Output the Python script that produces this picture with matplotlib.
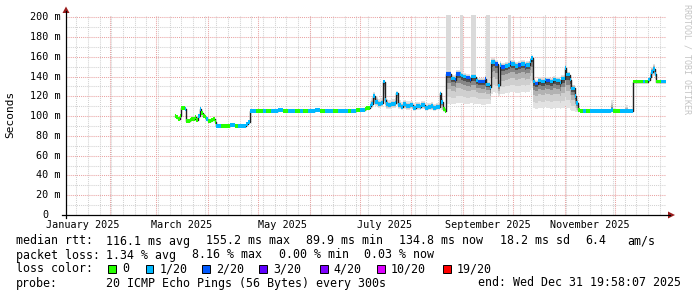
import matplotlib
matplotlib.use("Agg")
import matplotlib.pyplot as plt
import matplotlib.dates as mdates
from matplotlib.lines import Line2D
from matplotlib.patches import Polygon, Rectangle
import numpy as np
import pandas as pd

# ---------------- data ----------------
graph_start = "2025-01-05 19:58:07"
graph_end = "2025-12-31 19:58:07"
y_top_ms = 202.3

sample_dates = [
    "2025-03-12", "2025-03-13", "2025-03-14", "2025-03-15", "2025-03-16", "2025-03-18",
    "2025-03-19", "2025-03-21", "2025-03-22", "2025-03-24", "2025-03-25", "2025-03-26",
    "2025-03-27", "2025-03-28", "2025-03-29", "2025-03-30", "2025-03-31", "2025-04-01",
    "2025-04-03", "2025-04-04", "2025-04-05", "2025-04-06", "2025-04-09", "2025-04-14",
    "2025-04-17", "2025-04-19", "2025-04-24", "2025-04-25",
    "2025-04-26", "2025-04-30", "2025-05-04", "2025-05-06", "2025-05-09", "2025-05-13",
    "2025-05-16", "2025-05-19", "2025-05-23", "2025-05-26", "2025-05-28", "2025-05-31",
    "2025-06-04", "2025-06-07", "2025-06-10", "2025-06-15", "2025-06-18", "2025-06-24",
    "2025-06-26", "2025-06-29",
    "2025-07-01", "2025-07-04", "2025-07-05", "2025-07-07", "2025-07-08", "2025-07-09",
    "2025-07-10", "2025-07-12", "2025-07-14", "2025-07-15", "2025-07-16", "2025-07-17",
    "2025-07-18", "2025-07-20", "2025-07-22", "2025-07-23", "2025-07-24", "2025-07-26",
    "2025-07-27", "2025-07-29", "2025-07-31", "2025-08-02", "2025-08-04", "2025-08-06",
    "2025-08-07", "2025-08-09", "2025-08-11", "2025-08-13", "2025-08-14", "2025-08-16",
    "2025-08-18", "2025-08-19", "2025-08-20", "2025-08-21",
    "2025-08-22", "2025-08-24", "2025-08-25", "2025-08-27", "2025-08-28", "2025-08-30",
    "2025-08-31", "2025-09-01", "2025-09-03", "2025-09-05", "2025-09-06", "2025-09-07",
    "2025-09-09", "2025-09-10", "2025-09-12", "2025-09-14", "2025-09-15", "2025-09-17",
    "2025-09-18", "2025-09-19", "2025-09-20", "2025-09-22", "2025-09-23", "2025-09-24",
    "2025-09-26", "2025-09-28", "2025-09-29", "2025-09-30", "2025-10-02", "2025-10-04",
    "2025-10-06", "2025-10-08", "2025-10-09", "2025-10-11", "2025-10-12", "2025-10-13",
    "2025-10-14", "2025-10-16", "2025-10-18", "2025-10-20", "2025-10-21", "2025-10-23",
    "2025-10-25", "2025-10-27", "2025-10-29", "2025-10-30", "2025-11-01", "2025-11-02",
    "2025-11-04", "2025-11-05", "2025-11-07", "2025-11-08", "2025-11-09",
    "2025-11-10", "2025-11-12", "2025-11-14", "2025-11-16", "2025-11-29", "2025-11-30",
    "2025-12-02", "2025-12-04", "2025-12-07", "2025-12-09", "2025-12-12", "2025-12-18",
    "2025-12-19", "2025-12-21", "2025-12-22", "2025-12-23", "2025-12-24", "2025-12-25",
    "2025-12-26", "2025-12-29",
]

median_ms = [
    100, 99, 97, 100, 108, 107,
    95, 96, 97, 99, 96, 100,
    107, 103, 100, 99, 97, 95,
    96, 97, 94, 90, 90, 91,
    90, 90, 92, 94,
    105, 105, 105, 105, 105, 106,
    105, 105, 105, 105, 105, 105,
    106, 105, 105, 105, 105, 105,
    105, 106,
    106, 107, 108, 110, 112, 120,
    114, 112, 113, 135, 116, 112,
    111, 112, 113, 123, 111, 109,
    112, 110, 111, 108, 110, 109,
    111, 108, 109, 110, 108, 109,
    123, 114, 107, 105,
    143, 143, 138, 137, 143, 143,
    141, 140, 139, 137, 140, 140,
    136, 135, 135, 138, 132, 129,
    155, 155, 153, 131, 152, 150,
    151, 152, 154, 153, 151, 152,
    153, 151, 152, 156, 159, 135,
    133, 136, 135, 137, 136, 135,
    137, 136, 134, 138, 149, 142,
    137, 128, 120, 113, 106,
    105, 105, 105, 105, 106, 105,
    105, 105, 105, 105, 135, 135,
    135, 137, 140, 145, 148, 143,
    135, 135,
]

# index into loss_colors (0 = no loss, 1 = 1/20, 2 = 2/20 ...)
loss_index = [
    0, 0, 0, 0, 0, 1,
    0, 0, 0, 0, 0, 1,
    1, 0, 0, 0, 1, 0,
    0, 0, 0, 1, 0, 1,
    0, 1, 1, 1,
    1, 0, 1, 0, 1, 1,
    0, 1, 0, 1, 0, 1,
    1, 0, 1, 0, 1, 0,
    1, 0,
    1, 0, 0, 1, 1, 1,
    1, 1, 1, 1, 1, 1,
    1, 1, 1, 1, 1, 1,
    1, 1, 1, 1, 1, 1,
    1, 1, 1, 1, 1, 1,
    1, 1, 0, 0,
    2, 2, 1, 2, 2, 1,
    1, 1, 2, 2, 1, 1,
    1, 2, 2, 2, 1, 1,
    1, 1, 2, 1, 1, 2,
    1, 1, 2, 1, 1, 2,
    1, 2, 1, 1, 1, 1,
    2, 1, 1, 1, 2, 1,
    1, 1, 1, 1, 1, 1,
    1, 1, 1, 1, 0,
    0, 1, 0, 1, 1, 0,
    0, 1, 1, 1, 0, 1,
    0, 1, 1, 1, 1, 1,
    0, 1,
]

smoke_lo_ms = [
    100, 99, 97, 100, 108, 107,
    95, 96, 97, 99, 96, 100,
    107, 103, 100, 99, 97, 95,
    96, 97, 94, 90, 90, 91,
    90, 90, 92, 94,
    105, 105, 105, 105, 105, 105,
    105, 105, 105, 105, 105, 105,
    105, 105, 105, 105, 105, 105,
    105, 105,
    105, 105, 106, 107, 108, 112,
    110, 108, 109, 118, 110, 107,
    107, 108, 108, 113, 107, 106,
    107, 106, 107, 105, 106, 106,
    107, 105, 106, 106, 105, 106,
    110, 106, 104, 104,
    112, 112, 112, 112, 113, 113,
    113, 112, 112, 113, 113, 112,
    112, 112, 111, 111, 112, 112,
    122, 124, 123, 120, 122, 122,
    123, 123, 124, 124, 123, 123,
    124, 123, 124, 126, 128, 108,
    107, 108, 108, 109, 108, 107,
    108, 108, 107, 108, 110, 108,
    106, 105, 104, 104, 104,
    105, 105, 105, 105, 104, 104,
    105, 105, 104, 105, 134, 134,
    134, 135, 137, 140, 141, 138,
    134, 134,
]

smoke_hi_ms = [
    100, 99, 97, 100, 108, 107,
    95, 96, 97, 99, 96, 100,
    107, 103, 100, 99, 97, 95,
    96, 97, 94, 90, 90, 91,
    90, 90, 92, 94,
    106, 106, 106, 106, 106, 107,
    106, 106, 106, 106, 107, 106,
    107, 107, 106, 107, 107, 106,
    107, 108,
    108, 109, 110, 115, 118, 124,
    120, 117, 118, 137, 121, 117,
    116, 117, 118, 125, 116, 114,
    116, 115, 115, 113, 114, 113,
    115, 113, 113, 114, 112, 113,
    125, 118, 110, 108,
    147, 147, 142, 141, 147, 147,
    145, 144, 143, 141, 144, 144,
    140, 139, 139, 142, 136, 133,
    159, 159, 157, 137, 156, 154,
    155, 156, 158, 157, 155, 156,
    157, 155, 156, 159, 162, 139,
    137, 140, 139, 141, 140, 139,
    141, 140, 138, 142, 152, 145,
    140, 132, 124, 117, 108,
    107, 107, 107, 107, 116, 108,
    107, 107, 111, 107, 136, 136,
    137, 140, 144, 150, 153, 147,
    137, 136,
]

# bins whose worst ping went off the top of the graph
tall_smoke_dates = ["2025-08-22", "2025-08-24", "2025-08-30", "2025-08-31", "2025-09-06",
                    "2025-09-07", "2025-09-15", "2025-09-28", "2025-09-29", "2025-10-20"]

loss_labels = ["0", "1/20", "2/20", "3/20", "4/20", "10/20", "19/20"]
loss_colors = ["#26ff00", "#00b8ff", "#0059ff", "#5e00ff", "#7e00ff", "#dd00ff", "#ff0000"]

month_labels = ["January 2025", "March 2025", "May 2025", "July 2025",
                "September 2025", "November 2025"]
month_label_dates = ["2025-01-16", "2025-03-16", "2025-05-16", "2025-07-16",
                     "2025-09-16", "2025-11-16"]
y_ticks_ms = [0, 20, 40, 60, 80, 100, 120, 140, 160, 180, 200]

rtt_items = ["116.1 ms avg", "155.2 ms max", "89.9 ms min", "134.8 ms now", "18.2 ms sd", "6.4", "am/s"]
loss_items = ["1.34 % avg", "8.16 % max", "0.00 % min", "0.03 % now"]
probe_text = "20 ICMP Echo Pings (56 Bytes) every 300s"
end_text = "end: Wed Dec 31 19:58:07 2025"

# ---------------- layout ----------------
W, H = 697, 297
L, R, T, B = 66, 666, 15, 215
MONO = "DejaVu Sans Mono"


def fx(x):
    return x / W


def fy(y):
    return 1 - y / H


def dnum(s):
    return mdates.date2num(pd.Timestamp(s).to_pydatetime())


fig = plt.figure(figsize=(W / 100, H / 100), dpi=100)
fig.patch.set_facecolor("white")
ax = fig.add_axes([fx(L), fy(B), (R - L) / W, (B - T) / H])
ax.set_facecolor("white")
for s in ax.spines.values():
    s.set_visible(False)
ax.set_xticks([])
ax.set_yticks([])

t0 = dnum(graph_start)
t1 = dnum(graph_end)
ax.set_xlim(t0, t1)
ax.set_ylim(0, y_top_ms)

# grid
minor_c = "#d2d2d2"
major_c = "#e9a3a3"
dot = (0, (1, 1))
for d in pd.date_range("2025-01-12", "2025-12-31", freq="7D"):
    ax.axvline(mdates.date2num(d.to_pydatetime()), color=minor_c, lw=0.75, ls=dot, zorder=0)
for v in range(10, 201, 20):
    ax.axhline(v, color=minor_c, lw=0.75, ls=dot, zorder=0)
for d in pd.date_range("2025-02-01", "2025-12-31", freq="MS"):
    ax.axvline(mdates.date2num(d.to_pydatetime()), color=major_c, lw=0.75, ls=dot, zorder=0.5)
for v in range(20, 201, 20):
    ax.axhline(v, color=major_c, lw=0.75, ls=dot, zorder=0.5)

# data
tt = np.array([dnum(s) for s in sample_dates] + [t1])
med = np.array(median_ms, float)
lo = np.array(smoke_lo_ms, float)
hi = np.array(smoke_hi_ms, float)
xl = tt[:-1]
wd = np.diff(tt)

# tall smoke columns
for d in tall_smoke_dates:
    i = sample_dates.index(d)
    ax.add_patch(Rectangle((tt[i], hi[i]), wd[i], y_top_ms - hi[i], color="#dadada",
                           lw=0, zorder=1, antialiased=False))

fracs = [1.0, 0.75, 0.5, 0.3, 0.15]
greys = ["#e2e2e2", "#cfcfcf", "#b2b2b2", "#868686", "#505050"]
for f, c in zip(fracs, greys):
    lf = med - (med - lo) * f
    hf = med + (hi - med) * f
    ax.fill_between(tt, np.r_[lf, lf[-1]], np.r_[hf, hf[-1]], step="post", color=c,
                    lw=0, zorder=2, antialiased=False)

ax.plot(tt, np.r_[med, med[-1]], drawstyle="steps-post", color="#202020", lw=1.0, zorder=3)

band = 1.9
cols = [loss_colors[k] for k in loss_index]
ax.bar(xl, 2 * band, width=wd, bottom=med - band, align="edge", color=cols, lw=0,
       zorder=4, antialiased=False)

# tick labels
for lab, d in zip(month_labels, month_label_dates):
    ax.text(dnum(d), -9.5 / (B - T), lab,
            transform=ax.get_xaxis_transform(), ha="center", va="center",
            fontsize=7.3, family=MONO, color="black")
for v in y_ticks_ms:
    lab = "0" if v == 0 else f"{v} m"
    xr = 60.5 if v else 48.5
    fig.text(fx(xr), fy(B - v * (B - T) / y_top_ms), lab, ha="right", va="center",
             fontsize=7.3, family=MONO, color="black")

fig.text(fx(10.7), fy(114.5), "Seconds", rotation=90, ha="center", va="center",
         fontsize=8.0, family=MONO, color="black")
fig.text(fx(687), fy(4), "RRDTOOL / TOBI OETIKER", rotation=270, ha="center", va="top",
         fontsize=6.0, family=MONO, color="#c4c4c4")

# axes lines and arrows
arrow_c = "#9a1c1c"
fig.add_artist(Line2D([fx(62), fx(670)], [fy(215), fy(215)], color="black", lw=0.9))
fig.add_artist(Line2D([fx(66), fx(66)], [fy(218), fy(11)], color="black", lw=0.9))
fig.add_artist(Polygon([[fx(668), fy(211.5)], [fx(675), fy(215)], [fx(668), fy(218.5)]],
                       closed=True, color=arrow_c, lw=0))
fig.add_artist(Polygon([[fx(62.5), fy(13)], [fx(66), fy(6.5)], [fx(69.5), fy(13)]],
                       closed=True, color=arrow_c, lw=0))

# legend
FS = 8.4


def ltext(x, y, s):
    fig.text(fx(x), fy(y), s, ha="left", va="center", fontsize=FS, family=MONO, color="black")


ltext(15.5, 241, "median rtt:")
for s, x in zip(rtt_items, [106.5, 206, 305.5, 399.5, 500, 585.5, 627]):
    ltext(x, 241, s)
ltext(15.5, 255, "packet loss:")
for s, x in zip(loss_items, [106.5, 192.5, 278.8, 364.5]):
    ltext(x, 255, s)
ltext(15.5, 269, "loss color:")
box_x = [108.3, 145.7, 202.3, 259.3, 320.0, 377.3, 443.3]
for lab, c, bx in zip(loss_labels, loss_colors, box_x):
    fig.add_artist(Rectangle((fx(bx), fy(272.7)), 7.5 / W, 8 / H, facecolor=c,
                             edgecolor="black", lw=0.7))
    ltext(bx + 13.5, 269, lab)
ltext(15.5, 283, "probe:")
ltext(106.5, 283, probe_text)
fig.text(fx(681), fy(283), end_text, ha="right", va="center", fontsize=FS, family=MONO,
         color="black")

fig.savefig("out.png", dpi=100, facecolor="white")
